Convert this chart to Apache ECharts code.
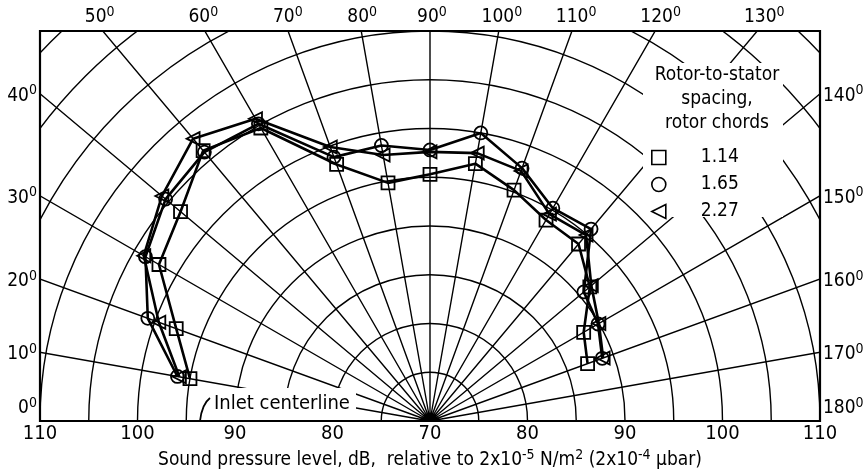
<!DOCTYPE html>
<html><head><meta charset="utf-8">
<script src="https://cdn.jsdelivr.net/npm/echarts@6/dist/echarts.min.js"></script>
<style>html,body{margin:0;padding:0;background:#fff}#c{width:864px;height:475px}</style>
</head><body><div id="c"></div>
<script>
// ---- data ----
const angles = [10,20,30,40,50,60,70,80,90,100,110,120,130,140,150,160];
const spl114 = [95.0, 97.7, 102.1, 103.4, 106.2, 104.7, 98.0, 94.8, 95.3, 96.8, 95.2, 93.8, 93.7, 91.4, 88.2, 87.2];
const spl165 = [96.3, 100.8, 103.7, 105.4, 106.0, 105.2, 98.8, 98.7, 97.8, 100.0, 97.6, 95.2, 95.7, 90.6, 89.9, 88.8];
const spl227 = [96.1, 99.6, 103.9, 105.9, 107.8, 105.8, 99.9, 97.7, 97.6, 97.9, 97.3, 94.5, 94.9, 91.6, 90.0, 88.9];
const seriesNames = ['1.14', '1.65', '2.27'];
const angleTicks = [0,10,20,30,40,50,60,70,80,90,100,110,120,130,140,150,160,170,180];
const splTickLabels = ['110','100','90','80','70','80','90','100','110'];

// ---- layout ----
const FONT = "'Liberation Sans Narrow','DejaVu Sans Condensed','Noto Sans',sans-serif";
const CX = 430, CY = 421, K = 9.75, RMIN = 70, RMAX = 130, ROUT = 110;
const HALF = (ROUT - RMIN) * K;
const L = CX - HALF, R = CX + HALF, T = CY - HALF, B = CY;
const TRI = 'path://M10,0 L0,5 L10,10 Z';

const chart = echarts.init(document.getElementById('c'), null, {renderer: 'canvas'});

function angleLabel(a) {
  const rad = a * Math.PI / 180;
  const ux = -Math.cos(rad), uy = Math.sin(rad);
  const tSide = Math.abs(ux) > 1e-9 ? HALF / Math.abs(ux) : Infinity;
  const tTop = uy > 1e-9 ? HALF / uy : Infinity;
  const rich = {
    a: {fontFamily: FONT, fontSize: 19, lineHeight: 24, fill: '#000'},
    s: {fontFamily: FONT, fontSize: 14, lineHeight: 14, verticalAlign: 'top', fill: '#000'}
  };
  const text = '{a|' + a + '}{s|0}';
  if (tTop < tSide) {
    const tExt = (HALF + 6) / uy;
    return {type: 'text', z: 200, x: CX + ux * tExt + 2, y: T - 2,
      style: {text, rich, align: 'center', verticalAlign: 'bottom'}};
  }
  const y = Math.min(CY - uy * tSide + 2, CY - 13);
  return {type: 'text', z: 200, x: ux < 0 ? L - 3 : R + 3, y: y,
    style: {text, rich, align: ux < 0 ? 'right' : 'left', verticalAlign: 'middle'}};
}

const graphics = [
  {type: 'rect', z: 60, shape: {x: 643, y: 63, width: 140, height: 154}, style: {fill: '#fff'}},
  {type: 'rect', z: 60, shape: {x: 200, y: 388, width: 156, height: 32}, style: {fill: '#fff'}},
  {type: 'rect', z: 100, shape: {x: 0, y: 0, width: L, height: 475}, style: {fill: '#fff'}},
  {type: 'rect', z: 100, shape: {x: R, y: 0, width: 864 - R, height: 475}, style: {fill: '#fff'}},
  {type: 'rect', z: 100, shape: {x: 0, y: 0, width: 864, height: T}, style: {fill: '#fff'}},
  {type: 'rect', z: 100, shape: {x: 0, y: B, width: 864, height: 475 - B}, style: {fill: '#fff'}},
  {type: 'rect', z: 110, shape: {x: L, y: T, width: R - L, height: B - T},
    style: {fill: 'none', stroke: '#000', lineWidth: 2.2}},
  {type: 'text', z: 150, x: 717, y: 63,
    style: {text: 'Rotor-to-stator\nspacing,\nrotor chords', align: 'center', verticalAlign: 'top',
      fontFamily: FONT, fontSize: 19, lineHeight: 24, fill: '#000'}},
  {type: 'text', z: 150, x: 214, y: 404,
    style: {text: 'Inlet centerline', align: 'left', verticalAlign: 'middle',
      fontFamily: FONT, fontSize: 20, fill: '#000'}},
  {type: 'bezierCurve', z: 150, shape: {x1: 210, y1: 398, cpx1: 202, cpy1: 404, x2: 200, y2: 421},
    style: {fill: 'none', stroke: '#000', lineWidth: 1.8}}
].concat(angleTicks.map(angleLabel));

function mkSeries(name, vals, symbol) {
  return {
    name, type: 'line', coordinateSystem: 'polar', z: 5,
    data: angles.map((a, i) => [vals[i], a]),
    symbol, symbolSize: 13,
    lineStyle: {color: '#000', width: 2.6},
    itemStyle: {color: 'rgba(255,255,255,0)', borderColor: '#000', borderWidth: 1.8},
    emphasis: {disabled: true}, animation: false
  };
}

chart.setOption({
  animation: false,
  backgroundColor: '#fff',
  polar: {center: [CX, CY], radius: (RMAX - RMIN) * K},
  angleAxis: {
    type: 'value', min: 0, max: 360, interval: 10, startAngle: 180, clockwise: true,
    axisLine: {show: false}, axisTick: {show: false}, axisLabel: {show: false},
    splitLine: {show: true, lineStyle: {color: '#000', width: 1.4}}
  },
  radiusAxis: {
    type: 'value', min: RMIN, max: RMAX, interval: 5,
    axisLine: {show: false}, axisTick: {show: false}, axisLabel: {show: false},
    splitLine: {show: true, lineStyle: {color: '#000', width: 1.4}}
  },
  grid: {left: L, right: 864 - R, top: T, bottom: 475 - B},
  xAxis: {
    type: 'category', data: splTickLabels, boundaryGap: false, z: 200,
    axisLine: {show: false}, axisTick: {show: false}, splitLine: {show: false},
    axisLabel: {fontFamily: FONT, fontSize: 20, color: '#000', margin: 5, interval: 0},
    name: '{t|Sound pressure level, dB,  relative to 2x10}{s|-5}{t| N/m}{s|2}{t| (2x10}{s|-4}{t| μbar)}',
    nameLocation: 'middle', nameGap: 27,
    nameTextStyle: {
      rich: {
        t: {fontFamily: FONT, fontSize: 19, lineHeight: 24, color: '#000'},
        s: {fontFamily: FONT, fontSize: 14, lineHeight: 13, verticalAlign: 'top', color: '#000'}
      }
    }
  },
  yAxis: {type: 'value', show: false},
  legend: {
    orient: 'vertical', left: 646, top: 143, itemWidth: 14, itemHeight: 14, itemGap: 8,
    z: 160, selectedMode: false,
    data: [{name: seriesNames[0], icon: 'rect'}, {name: seriesNames[1], icon: 'circle'}, {name: seriesNames[2], icon: TRI}],
    itemStyle: {color: 'rgba(255,255,255,0)', borderColor: '#000', borderWidth: 1.6},
    textStyle: {fontFamily: FONT, fontSize: 19, color: '#000', padding: [0, 0, 0, 30]}
  },
  graphic: {elements: graphics},
  series: [
    mkSeries(seriesNames[0], spl114, 'rect'),
    mkSeries(seriesNames[1], spl165, 'circle'),
    mkSeries(seriesNames[2], spl227, TRI)
  ]
});
</script>
</body></html>
